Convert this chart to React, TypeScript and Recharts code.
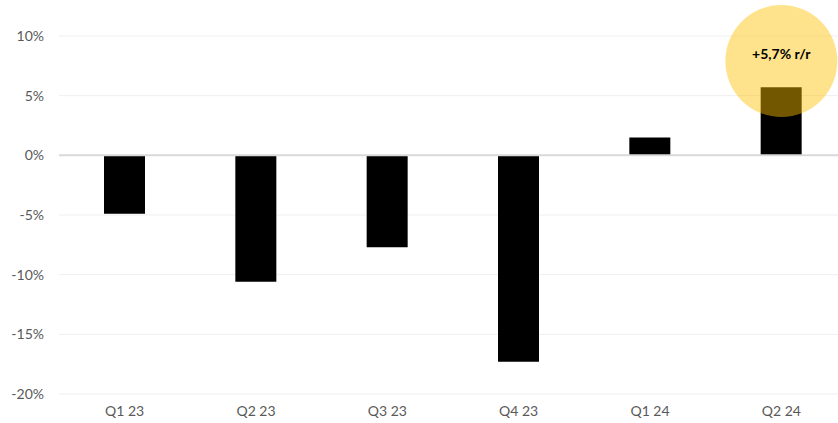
import { BarChart, Bar, XAxis, YAxis, CartesianGrid, ReferenceLine, ReferenceDot } from 'recharts';

const quarters = ['Q1 23', 'Q2 23', 'Q3 23', 'Q4 23', 'Q1 24', 'Q2 24'];
const yoyChange = [-4.9, -10.6, -7.7, -17.3, 1.5, 5.7];
const yTicks = [-20, -15, -10, -5, 0, 5, 10];
const highlightQuarter = 'Q2 24';
const highlightLabel = '+5,7% r/r';
const highlightAt = 7.9;

const data = quarters.map((q, i) => ({ quarter: q, value: yoyChange[i] }));

const font = 'Lato, "Open Sans", sans-serif';

const HighlightLabel = (props: any) => {
  const { viewBox } = props;
  const cx = viewBox.x + viewBox.width / 2;
  const cy = viewBox.y + viewBox.height / 2;
  return (
    <text x={cx} y={cy - 6} textAnchor="middle" dominantBaseline="middle" fontFamily={font} fontSize={14} fontWeight={700} fill="#000">
      {highlightLabel}
    </text>
  );
};

const App = () => {
  return (
    <div style={{ position: 'fixed', left: 0, top: 0, width: 838, height: 423, overflow: 'hidden', background: '#fff' }}>
      <BarChart width={847} height={423} data={data} margin={{ top: 36, right: 0, left: 0, bottom: 0 }}>
        <CartesianGrid vertical={false} stroke="#efefef" />
        <XAxis
          dataKey="quarter"
          axisLine={false}
          tickLine={false}
          height={29}
          tickMargin={6}
          tick={{ fontFamily: font, fontSize: 14, fill: '#595959' }}
        />
        <YAxis
          width={59}
          domain={[-20, 10]}
          ticks={yTicks}
          axisLine={false}
          tickLine={false}
          tickSize={0}
          tickMargin={15}
          tickFormatter={(v) => `${v}%`}
          tick={{ fontFamily: font, fontSize: 14, fill: '#595959' }}
        />
        <ReferenceLine y={0} stroke="#d9d9d9" strokeWidth={2} />
        <Bar dataKey="value" fill="#000" barSize={41} isAnimationActive={false} />
        <ReferenceDot
          x={highlightQuarter}
          y={highlightAt}
          r={56}
          fill="#FFC000"
          fillOpacity={0.45}
          stroke="none"
          ifOverflow="visible"
          label={<HighlightLabel />}
        />
      </BarChart>
    </div>
  );
};

export default App;
